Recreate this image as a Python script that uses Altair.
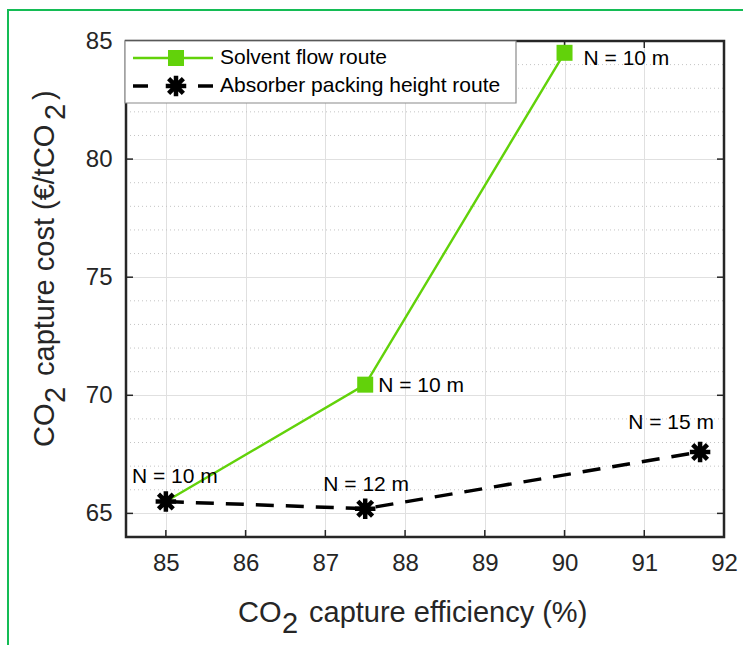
import altair as alt
import pandas as pd

# Capture efficiency (%) and capture cost (EUR/tCO2) along the two design routes
efficiency_solvent = [85.0, 87.5, 90.0]
cost_solvent = [65.5, 70.45, 84.5]
labels_solvent = ["N = 10 m", "N = 10 m", "N = 10 m"]

efficiency_packing = [85.0, 87.5, 91.7]
cost_packing = [65.5, 65.2, 67.6]
labels_packing = ["N = 10 m", "N = 12 m", "N = 15 m"]

x_ticks = [85, 86, 87, 88, 89, 90, 91, 92]
y_ticks = [65, 70, 75, 80, 85]
y_minor = [66, 67, 68, 69, 71, 72, 73, 74, 76, 77, 78, 79, 81, 82, 83, 84]

W, H = 598, 496
FONT = "Liberation Sans"
INK = "#262626"
GREEN = "#62D20A"
BORDER_GREEN = "#14BC55"
ASTERISK = "M -1 0 L 1 0 M 0 -1 L 0 1 M -0.72 -0.72 L 0.72 0.72 M -0.72 0.72 L 0.72 -0.72"

solvent = pd.DataFrame({"eff": efficiency_solvent, "cost": cost_solvent,
                        "label": labels_solvent, "i": range(3)})
packing = pd.DataFrame({"eff": efficiency_packing, "cost": cost_packing,
                        "label": labels_packing, "i": range(3)})

xs = alt.Scale(domain=[84.5, 92], nice=False, zero=False)
ys = alt.Scale(domain=[64, 85], nice=False, zero=False)

X = alt.X("eff:Q", scale=xs, title=None, axis=alt.Axis(values=x_ticks))
Y = alt.Y("cost:Q", scale=ys, title=None, axis=alt.Axis(values=y_ticks))

minor = alt.Chart(pd.DataFrame({"cost": y_minor})).mark_rule(
    color="#c4c4c4", strokeWidth=1, strokeDash=[1, 3]
).encode(y=Y, x=alt.value(0), x2=alt.value(W))

xt = pd.DataFrame({"eff": x_ticks})
yt = pd.DataFrame({"cost": y_ticks})
tick_style = dict(color=INK, strokeWidth=1.5)
ticks = alt.layer(
    alt.Chart(xt).mark_rule(**tick_style).encode(x=X, y=alt.value(H), y2=alt.value(H - 7)),
    alt.Chart(xt).mark_rule(**tick_style).encode(x=X, y=alt.value(0), y2=alt.value(7)),
    alt.Chart(yt).mark_rule(**tick_style).encode(y=Y, x=alt.value(0), x2=alt.value(7)),
    alt.Chart(yt).mark_rule(**tick_style).encode(y=Y, x=alt.value(W - 7), x2=alt.value(W)),
)

one = pd.DataFrame({"k": [0]})
frame = alt.Chart(one).mark_rect(
    fill=None, stroke=INK, strokeWidth=2.5
).encode(x=alt.value(0), x2=alt.value(W), y=alt.value(0), y2=alt.value(H))

solvent_line = alt.Chart(solvent).mark_line(color=GREEN, strokeWidth=2.4).encode(x=X, y=Y, order="i:O")
# the shared base case carries the asterisk only
solvent_pts = alt.Chart(solvent).transform_filter("datum.i > 0").mark_point(
    shape="square", filled=True, color=GREEN, size=256, opacity=1
).encode(x=X, y=Y)

packing_line = alt.Chart(packing).mark_line(color="black", strokeWidth=3.5, strokeDash=[18, 12]).encode(x=X, y=Y, order="i:O")
packing_pts = alt.Chart(packing).mark_point(
    shape=ASTERISK, filled=False, color="black", strokeWidth=4.5, size=420, opacity=1
).encode(x=X, y=Y)


def point_label(df, idx, align, dx, dy):
    return alt.Chart(df).transform_filter(f"datum.i == {idx}").mark_text(
        align=align, baseline="middle", dx=dx, dy=dy, fontSize=21, font=FONT, color="black"
    ).encode(x=X, y=Y, text="label:N")


labels = alt.layer(
    point_label(solvent, 1, "left", 13, 1),
    point_label(solvent, 2, "left", 19, 6),
    point_label(packing, 0, "center", 9, -25),
    point_label(packing, 1, "center", 1, -24),
    point_label(packing, 2, "center", -29, -29),
)

# legend
legend = alt.layer(
    alt.Chart(one).mark_rect(fill="white", stroke="#8a8a8a", strokeWidth=1.2).encode(
        x=alt.value(-1), x2=alt.value(390), y=alt.value(0), y2=alt.value(62)),
    alt.Chart(one).mark_rule(color=GREEN, strokeWidth=2.4).encode(
        x=alt.value(7), x2=alt.value(87), y=alt.value(17)),
    alt.Chart(one).mark_point(shape="square", filled=True, color=GREEN, size=256, opacity=1).encode(
        x=alt.value(50), y=alt.value(17)),
    alt.Chart(one).mark_text(align="left", baseline="middle", fontSize=21, font=FONT, color="black").encode(
        x=alt.value(94), y=alt.value(17), text=alt.value("Solvent flow route")),
    alt.Chart(one).mark_rule(color="black", strokeWidth=3.5).encode(
        x=alt.value(7), x2=alt.value(22), y=alt.value(45)),
    alt.Chart(one).mark_rule(color="black", strokeWidth=3.5).encode(
        x=alt.value(72), x2=alt.value(87), y=alt.value(45)),
    alt.Chart(one).mark_point(shape=ASTERISK, filled=False, color="black", strokeWidth=4.5, size=420, opacity=1).encode(
        x=alt.value(50), y=alt.value(45)),
    alt.Chart(one).mark_text(align="left", baseline="middle", fontSize=21, font=FONT, color="black").encode(
        x=alt.value(94), y=alt.value(45), text=alt.value("Absorber packing height route")),
)


# axis titles with lowered subscripts
def title_piece(text, x, y, dx, dy, angle=0):
    return alt.Chart(one).mark_text(
        align="left", baseline="alphabetic", fontSize=29, font=FONT, color=INK,
        dx=dx, dy=dy, angle=angle
    ).encode(x=alt.value(x), y=alt.value(y), text=alt.value(text))


xtx, xty = 112, 581
x_title = alt.layer(
    title_piece("CO", xtx, xty, 0, 0),
    title_piece("2", xtx, xty, 44, 11),
    title_piece("capture efficiency (%)", xtx, xty, 71, 0),
)

ytx, yty = -72, 406
y_title = alt.layer(
    title_piece("CO", ytx, yty, 0, 0, 270),
    title_piece("2", ytx, yty, 44, 11, 270),
    title_piece("capture cost (€/tCO", ytx, yty, 71, 0, 270),
    title_piece("2", ytx, yty, 327, 11, 270),
    title_piece(")", ytx, yty, 347, 0, 270),
)

border = alt.Chart(one).mark_rect(fill=None, stroke=BORDER_GREEN, strokeWidth=2).encode(
    x=alt.value(-118), x2=alt.value(700), y=alt.value(-31), y2=alt.value(700))

chart = alt.layer(
    minor, ticks, solvent_line, packing_line, solvent_pts, packing_pts,
    labels, frame, legend, x_title, y_title, border
).properties(
    width=W, height=H,
    autosize=alt.AutoSizeParams(type="none"),
    padding={"left": 126, "top": 41, "right": 19, "bottom": 108},
    background="white",
).configure_view(
    stroke=None
).configure_axis(
    grid=True, gridColor="#e0e0e0", gridWidth=1, domain=False, ticks=False,
    labelFontSize=24, labelFont=FONT, labelColor=INK, labelPadding=14, labelFlush=False,
)

chart.save("out.html", embed_options={"renderer": "svg", "actions": False})
